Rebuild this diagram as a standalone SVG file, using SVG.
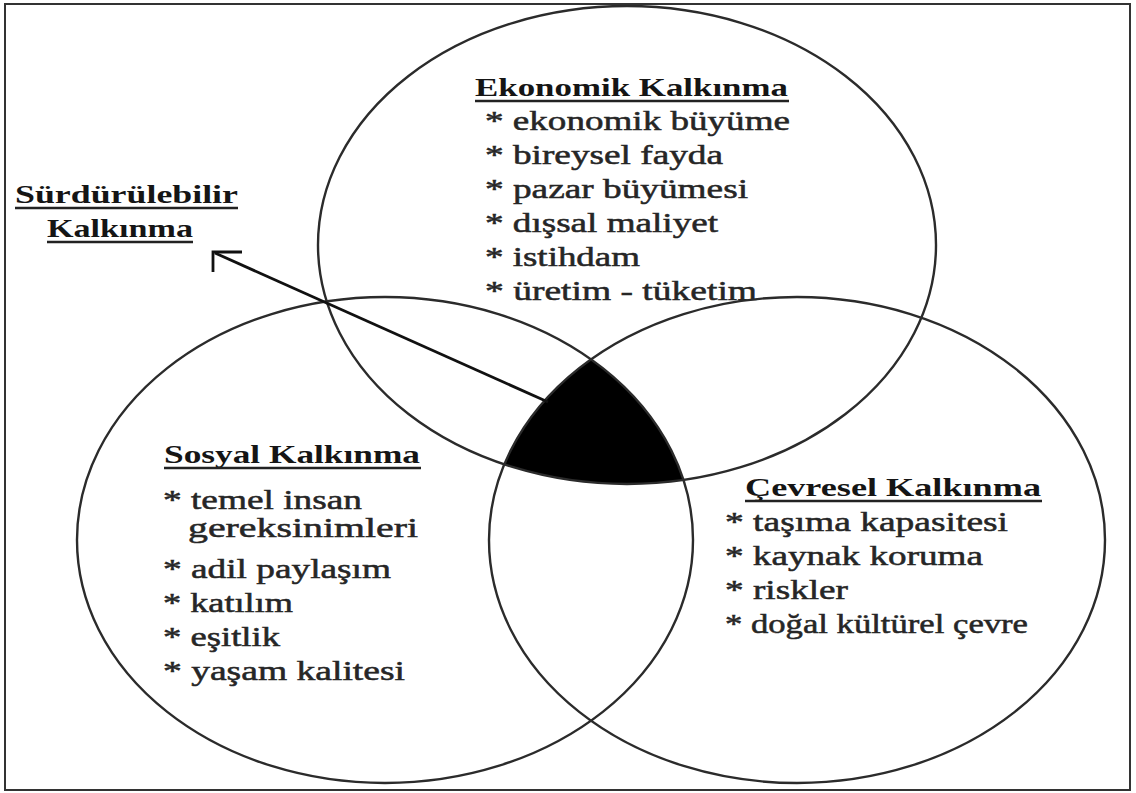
<svg xmlns="http://www.w3.org/2000/svg" width="1136" height="793" viewBox="0 0 1136 793">
<style>
.ell{fill:none;stroke:#2b2b2b;stroke-width:2.4}
.hd{font-family:"Liberation Serif","Times New Roman",serif;font-weight:bold;font-size:26px;fill:#151515}
.tx{font-family:"Liberation Serif","Times New Roman",serif;font-size:27px;fill:#262626;stroke:#262626;stroke-width:0.5}
.ul{stroke:#222;stroke-width:2.4}
.con{stroke:#111;stroke-width:2.8;fill:none}
</style>
<defs>
<clipPath id="clipL"><ellipse cx="385" cy="540" rx="308" ry="243"/></clipPath>
<clipPath id="clipR"><ellipse cx="797" cy="540" rx="308" ry="243"/></clipPath>
</defs>
<rect x="0" y="0" width="1136" height="793" fill="#fff"/>
<rect x="5" y="4" width="1125" height="786" fill="none" stroke="#333" stroke-width="2"/>

<g id="sustainable-core">
<g clip-path="url(#clipL)"><ellipse cx="627" cy="245" rx="309" ry="239" fill="#000" clip-path="url(#clipR)"/></g>
</g>

<g id="ekonomik">
<ellipse class="ell" cx="627" cy="245" rx="309" ry="239"/>
<text class="hd" x="475" y="96" textLength="313" lengthAdjust="spacingAndGlyphs">Ekonomik Kalkınma</text>
<line class="ul" x1="475" y1="101" x2="789" y2="101"/>
<text class="tx" x="485" y="130" textLength="305" lengthAdjust="spacingAndGlyphs">* ekonomik büyüme</text>
<text class="tx" x="485" y="164" textLength="238" lengthAdjust="spacingAndGlyphs">* bireysel fayda</text>
<text class="tx" x="485" y="198" textLength="263" lengthAdjust="spacingAndGlyphs">* pazar büyümesi</text>
<text class="tx" x="485" y="232" textLength="233" lengthAdjust="spacingAndGlyphs">* dışsal maliyet</text>
<text class="tx" x="485" y="266" textLength="155" lengthAdjust="spacingAndGlyphs">* istihdam</text>
<text class="tx" x="485" y="300" textLength="272" lengthAdjust="spacingAndGlyphs">* üretim - tüketim</text>
</g>

<g id="sosyal">
<ellipse class="ell" cx="385" cy="540" rx="308" ry="243"/>
<text class="hd" x="164" y="463" textLength="256" lengthAdjust="spacingAndGlyphs">Sosyal Kalkınma</text>
<line class="ul" x1="164" y1="468" x2="421" y2="468"/>
<text class="tx" x="163" y="509" textLength="199" lengthAdjust="spacingAndGlyphs">* temel insan</text>
<text class="tx" x="188" y="537" textLength="230" lengthAdjust="spacingAndGlyphs">gereksinimleri</text>
<text class="tx" x="163" y="578" textLength="228" lengthAdjust="spacingAndGlyphs">* adil paylaşım</text>
<text class="tx" x="163" y="612" textLength="130" lengthAdjust="spacingAndGlyphs">* katılım</text>
<text class="tx" x="163" y="646" textLength="117" lengthAdjust="spacingAndGlyphs">* eşitlik</text>
<text class="tx" x="163" y="680" textLength="242" lengthAdjust="spacingAndGlyphs">* yaşam kalitesi</text>
</g>

<g id="cevresel">
<ellipse class="ell" cx="797" cy="540" rx="308" ry="243"/>
<text class="hd" x="745" y="496" textLength="296" lengthAdjust="spacingAndGlyphs">Çevresel Kalkınma</text>
<line class="ul" x1="745" y1="501" x2="1042" y2="501"/>
<text class="tx" x="725" y="531" textLength="283" lengthAdjust="spacingAndGlyphs">* taşıma kapasitesi</text>
<text class="tx" x="725" y="565" textLength="258" lengthAdjust="spacingAndGlyphs">* kaynak koruma</text>
<text class="tx" x="725" y="599" textLength="123" lengthAdjust="spacingAndGlyphs">* riskler</text>
<text class="tx" x="725" y="633" textLength="303" lengthAdjust="spacingAndGlyphs">* doğal kültürel çevre</text>
</g>

<g id="surdurulebilir-label">
<text class="hd" x="15" y="203" textLength="223" lengthAdjust="spacingAndGlyphs">Sürdürülebilir</text>
<line class="ul" x1="15" y1="208" x2="238" y2="208"/>
<text class="hd" x="47" y="237" textLength="146" lengthAdjust="spacingAndGlyphs">Kalkınma</text>
<line class="ul" x1="47" y1="242" x2="193" y2="242"/>
</g>

<g id="connectors">
<line class="con" x1="548" y1="402" x2="215" y2="253"/>
<polyline class="con" points="242,252 213,252 213,272"/>
</g>
</svg>
